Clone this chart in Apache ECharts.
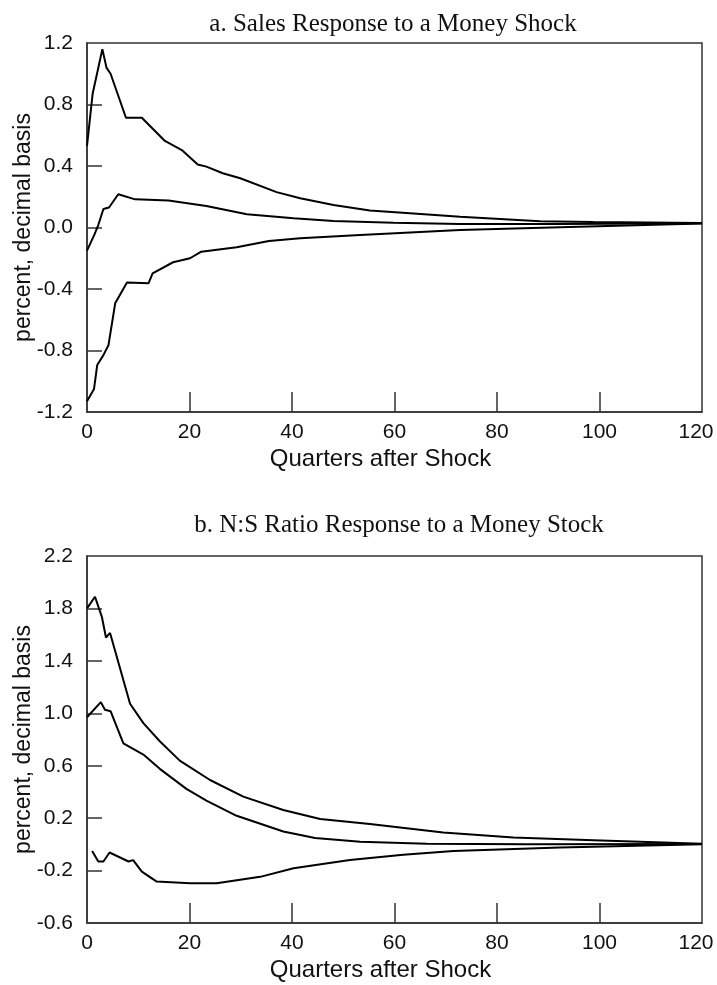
<!DOCTYPE html>
<html>
<head>
<meta charset="utf-8">
<script src="https://cdn.jsdelivr.net/npm/echarts@6/dist/echarts.min.js"></script>
<style>
html,body{margin:0;padding:0;background:#fff;}
#chart{width:717px;height:985px;}
</style>
</head>
<body>
<div id="chart"></div>
<script>
// ---- Panel a: Sales response to a money shock ----
const salesUpperQ = [0, 1.1, 3.0, 3.8, 4.6, 7.6, 10.7, 15.2, 18.5, 21.6, 23.3, 26.5, 29.9, 37.0, 41.6, 48.1, 55.2, 63.0, 72.8, 80.6, 88.4, 98.8, 120];
const salesUpperV = [0.53, 0.87, 1.16, 1.04, 1.0, 0.714, 0.714, 0.563, 0.504, 0.41, 0.396, 0.353, 0.32, 0.23, 0.19, 0.146, 0.11, 0.092, 0.07, 0.055, 0.04, 0.035, 0.03];
const salesMidQ = [0, 1.4, 2.2, 3.2, 4.3, 6.1, 9.4, 15.9, 23.3, 31.2, 40.3, 48.1, 59.8, 72.8, 92.3, 120];
const salesMidV = [-0.15, -0.05, 0.016, 0.12, 0.13, 0.216, 0.183, 0.175, 0.14, 0.086, 0.06, 0.042, 0.031, 0.022, 0.022, 0.028];
const salesLowQ = [0, 1.37, 2.0, 3.2, 4.2, 5.5, 7.8, 12.0, 12.8, 16.8, 20.1, 22.3, 29.2, 35.5, 41.6, 53.3, 72.8, 92.3, 120];
const salesLowV = [-1.13, -1.05, -0.894, -0.83, -0.764, -0.493, -0.357, -0.363, -0.298, -0.226, -0.2, -0.157, -0.129, -0.088, -0.07, -0.049, -0.016, 0.002, 0.026];

// ---- Panel b: N:S ratio response ----
const nsUpperQ = [0, 1.56, 2.9, 3.7, 4.5, 8.4, 11.0, 14.2, 18.1, 24.0, 30.5, 38.3, 45.5, 55.2, 69.5, 83.2, 98.8, 120];
const nsUpperV = [1.80, 1.889, 1.736, 1.578, 1.613, 1.073, 0.925, 0.787, 0.639, 0.491, 0.364, 0.262, 0.193, 0.155, 0.09, 0.052, 0.032, 0.005];
const nsMidQ = [0, 2.7, 3.5, 4.6, 5.7, 7.1, 11.0, 14.2, 19.4, 23.3, 29.2, 38.3, 44.5, 53.3, 66.3, 85.8, 120];
const nsMidV = [0.97, 1.085, 1.027, 1.016, 0.907, 0.771, 0.685, 0.576, 0.423, 0.333, 0.218, 0.098, 0.048, 0.02, 0.004, 0.0, 0.003];
const nsLowQ = [1.0, 2.2, 3.2, 4.4, 8.1, 9.0, 10.7, 13.6, 20.1, 25.3, 33.8, 40.3, 51.3, 61.7, 71.5, 92.3, 120];
const nsLowV = [-0.05, -0.131, -0.131, -0.062, -0.131, -0.12, -0.208, -0.284, -0.297, -0.297, -0.248, -0.182, -0.12, -0.08, -0.05, -0.024, 0.0];

// ---- Tick values / labels ----
const xLabelVals = [0, 20, 40, 60, 80, 100, 120];
const xTickVals = [20, 40, 60, 80, 100];
const yLabelsA = [-1.2, -0.8, -0.4, 0.0, 0.4, 0.8, 1.2];
const yTicksA = [-0.8, -0.4, 0.0, 0.4, 0.8];
const yLabelsB = [-0.6, -0.2, 0.2, 0.6, 1.0, 1.4, 1.8, 2.2];
const yTicksB = [-0.2, 0.2, 0.6, 1.0, 1.4, 1.8];

const titleA = 'a. Sales Response to a Money Shock';
const titleB = 'b. N:S Ratio Response to a Money Stock';
const xName = 'Quarters after Shock';
const yName = 'percent, decimal basis';

function pairs(q, v) { return q.map((x, i) => [x, v[i]]); }

const SANS = '"Liberation Sans", Arial, Helvetica, sans-serif';
const SERIF = '"Liberation Serif", "Times New Roman", serif';
const AXC = '#333';

function xAxisCfg(gi) {
  return {
    gridIndex: gi, type: 'value', min: 0, max: 120,
    name: xName, nameLocation: 'middle', nameGap: 35,
    nameTextStyle: { fontFamily: SANS, fontSize: 24, color: '#111', padding: [0, 28, 0, 0] },
    axisLine: { show: true, onZero: false, lineStyle: { color: AXC, width: 1.5 } },
    axisTick: { show: true, inside: true, length: 20, customValues: xTickVals, lineStyle: { color: AXC, width: 1.5 } },
    axisLabel: { customValues: xLabelVals, fontFamily: SANS, fontSize: 21, color: '#111', margin: 10,
      formatter: v => (v === 120 ? '{m|' + v + '}' : String(v)),
      rich: { m: { fontFamily: SANS, fontSize: 21, color: '#111', padding: [0, 12, 0, 0] } } },
    splitLine: { show: false }
  };
}
function yAxisCfg(gi, mn, mx, labs, ticks) {
  return {
    gridIndex: gi, type: 'value', min: mn, max: mx,
    name: yName, nameLocation: 'middle', nameGap: 52, nameRotate: 90, nameMoveOverlap: false,
    nameTextStyle: { fontFamily: SANS, fontSize: 23, color: '#111' },
    axisLine: { show: true, onZero: false, lineStyle: { color: AXC, width: 1.5 } },
    axisTick: { show: true, inside: true, length: 15, customValues: ticks, lineStyle: { color: AXC, width: 1.5 } },
    axisLabel: { customValues: labs, fontFamily: SANS, fontSize: 21, color: '#111', margin: 14,
      formatter: v => (Math.abs(v) < 1e-9 ? 0 : v).toFixed(1) },
    splitLine: { show: false }
  };
}
function line(xi, data) {
  return {
    type: 'line', xAxisIndex: xi, yAxisIndex: xi, data: data,
    showSymbol: false, symbol: 'none', smooth: false, silent: true,
    lineStyle: { color: '#000', width: 2 }
  };
}

const gridBase = { left: 87, width: 615, show: true, borderColor: AXC, borderWidth: 1.5,
  backgroundColor: 'transparent', containLabel: false, outerBoundsMode: 'none' };

const chart = echarts.init(document.getElementById('chart'), null, { renderer: 'canvas' });
chart.setOption({
  animation: false,
  backgroundColor: '#fff',
  title: [
    { text: titleA, left: 388, top: 7, textAlign: 'center',
      textStyle: { fontFamily: SERIF, fontSize: 25, fontWeight: 'normal', color: '#111' } },
    { text: titleB, left: 394, top: 508, textAlign: 'center',
      textStyle: { fontFamily: SERIF, fontSize: 25, fontWeight: 'normal', color: '#111' } }
  ],
  grid: [
    Object.assign({}, gridBase, { top: 43, height: 369 }),
    Object.assign({}, gridBase, { top: 556, height: 367 })
  ],
  xAxis: [xAxisCfg(0), xAxisCfg(1)],
  yAxis: [yAxisCfg(0, -1.2, 1.2, yLabelsA, yTicksA), yAxisCfg(1, -0.6, 2.2, yLabelsB, yTicksB)],
  series: [
    line(0, pairs(salesUpperQ, salesUpperV)),
    line(0, pairs(salesMidQ, salesMidV)),
    line(0, pairs(salesLowQ, salesLowV)),
    line(1, pairs(nsUpperQ, nsUpperV)),
    line(1, pairs(nsMidQ, nsMidV)),
    line(1, pairs(nsLowQ, nsLowV))
  ]
});
</script>
</body>
</html>
